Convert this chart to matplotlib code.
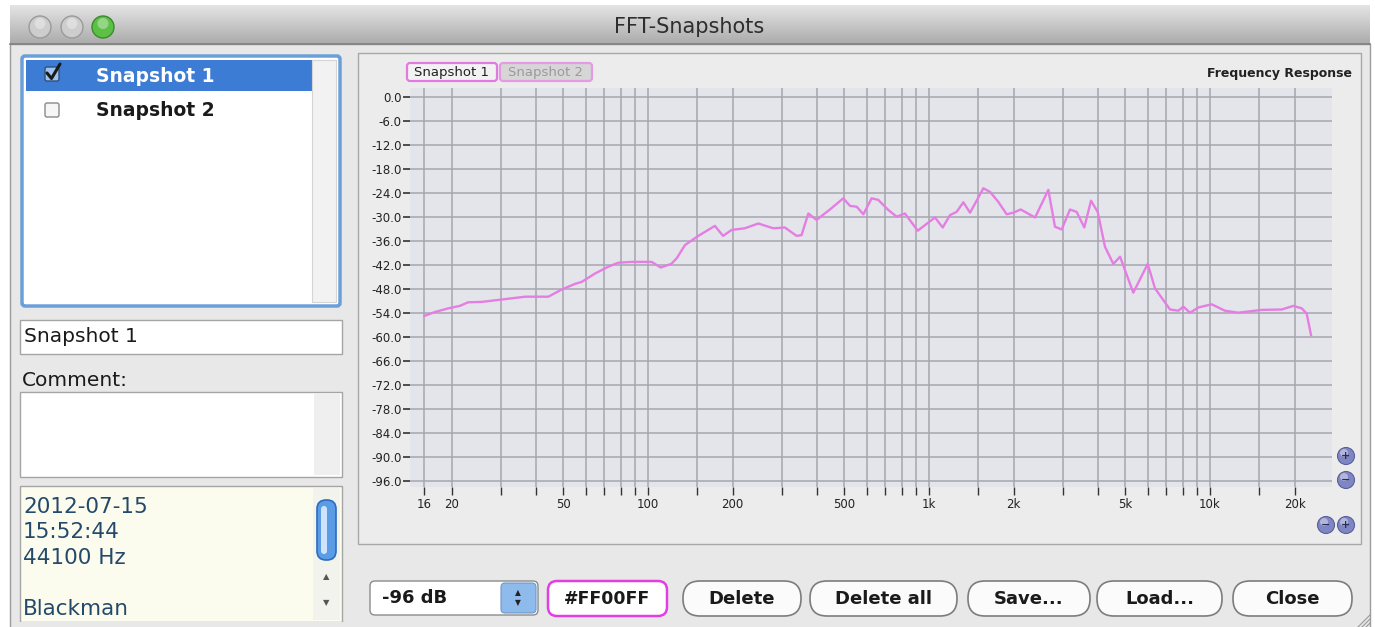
import matplotlib
matplotlib.use('Agg')
import matplotlib.pyplot as plt
from matplotlib.patches import Rectangle, FancyBboxPatch, Circle
from matplotlib.colors import LinearSegmentedColormap
import numpy as np

# ---------------- data ----------------
freq_hz = [16, 17.5, 19.5, 21.4, 22.9, 25.6, 30.2, 36.5, 44.2, 49.3, 55, 58.1, 64.8,
           72.2, 78.4, 87.5, 103, 111, 121, 126.5, 135.4, 151, 173, 185, 198.5, 221,
           247, 279, 307, 338, 352, 372, 398, 444, 495.5, 523.6, 553, 584, 625, 660,
           716, 767, 821, 912, 968, 1050, 1119, 1188, 1254, 1325, 1400, 1561, 1649,
           1765, 1890, 1996, 2120, 2385, 2659, 2807, 2966, 3175, 3354, 3570, 3772,
           3984, 4229, 4529, 4786, 5333, 6003, 6370, 7206, 7716, 8038, 8492, 9087,
           10139, 11300, 12610, 15270, 17990, 19800, 21190, 22080, 22880]
level_db = [-54.8, -53.8, -52.9, -52.3, -51.4, -51.3, -50.7, -50.0, -50.0, -48.2, -46.8,
            -46.3, -44.2, -42.5, -41.5, -41.3, -41.3, -42.7, -41.8, -40.4, -37.1, -34.8,
            -32.3, -34.8, -33.3, -32.9, -31.7, -32.9, -32.7, -34.8, -34.6, -29.2, -30.8,
            -28.2, -25.4, -27.3, -27.5, -29.4, -25.4, -25.8, -28.3, -30.0, -29.2, -33.5,
            -32.1, -30.2, -32.7, -29.6, -28.8, -26.4, -29.0, -22.9, -23.8, -26.3, -29.4,
            -29.0, -28.2, -30.2, -23.3, -32.5, -33.2, -28.2, -28.8, -32.7, -26.0, -28.8,
            -37.5, -41.8, -40.0, -49.0, -41.8, -47.9, -53.2, -53.5, -52.5, -54.0, -52.7,
            -51.9, -53.5, -54.0, -53.3, -53.2, -52.3, -52.9, -54.2, -59.6]

y_ticks = [0, -6, -12, -18, -24, -30, -36, -42, -48, -54, -60, -66, -72, -78, -84, -90, -96]
y_tick_labels = ['0.0', '-6.0', '-12.0', '-18.0', '-24.0', '-30.0', '-36.0', '-42.0',
                 '-48.0', '-54.0', '-60.0', '-66.0', '-72.0', '-78.0', '-84.0', '-90.0',
                 '-96.0']
x_grid_freqs = [16, 20, 30, 40, 50, 60, 70, 80, 90, 100, 150, 200, 300, 400, 500, 600,
                700, 800, 900, 1000, 1500, 2000, 3000, 4000, 5000, 6000, 7000, 8000,
                9000, 10000, 15000, 20000]
x_label_freqs = [16, 20, 50, 100, 200, 500, 1000, 2000, 5000, 10000, 20000]
x_labels = ['16', '20', '50', '100', '200', '500', '1k', '2k', '5k', '10k', '20k']

snapshot_names = ['Snapshot 1', 'Snapshot 2']
info_lines = ['2012-07-15', '15:52:44', '44100 Hz', '', 'Blackman']
button_labels = ['Delete', 'Delete all', 'Save...', 'Load...', 'Close']

# ---------------- figure / chrome ----------------
W, H = 1375, 627
plt.rcParams['font.family'] = ['DejaVu Sans']
fig = plt.figure(figsize=(W / 100, H / 100), dpi=100)
fig.patch.set_facecolor('white')
bg = fig.add_axes([0, 0, 1, 1], zorder=0)
bg.axis('off')


def box(x0, y0, x1, y1, fc, ec='none', lw=1.0, z=1, r=0.0):
    if r > 0:
        p = FancyBboxPatch((x0, y0), x1 - x0, y1 - y0,
                           boxstyle=f'round,pad=0,rounding_size={r}',
                           fc=fc, ec=ec, lw=lw, zorder=z)
    else:
        p = Rectangle((x0, y0), x1 - x0, y1 - y0, fc=fc, ec=ec, lw=lw, zorder=z)
    bg.add_patch(p)
    return p


# window body
box(10, 44, 1370, 640, '#e8e8e8', ec='#9c9c9c', lw=1, z=1)
# title bar gradient
grad = np.linspace(0, 1, 64).reshape(-1, 1)
tb_cmap = LinearSegmentedColormap.from_list('tb', ['#e4e4e4', '#c8c8c8', '#ababab'])
bg.imshow(grad, extent=[10, 1370, 44, 5], aspect='auto', cmap=tb_cmap, zorder=2)
bg.plot([10, 1370], [44, 44], color='#808080', lw=1.2, zorder=3)
bg.text(689, 27, 'FFT-Snapshots', ha='center', va='center', fontsize=15,
        color='#2e2e2e', zorder=4)
for cx, col, ec in [(40, '#cdcdcd', '#9a9a9a'), (72, '#cdcdcd', '#9a9a9a'),
                    (103, '#5cc046', '#3b8a2c')]:
    bg.add_patch(Circle((cx, 27), 11, fc=col, ec=ec, lw=1, zorder=4))
    bg.add_patch(Circle((cx, 23.5), 5.5, fc='white', ec='none', alpha=0.35, zorder=5))

# ---- left side ----
box(22, 56, 340, 306, 'white', ec='#6b9fd9', lw=2.5, z=2, r=3)
box(26, 60, 312, 91, '#3c7cd5', z=3)
box(312, 60, 336, 302, '#f2f2f2', ec='#d5d5d5', lw=0.8, z=3)
# checkboxes
box(45, 67, 59, 81, '#9fc3ec', ec='#30507a', lw=1, z=4, r=2)
bg.plot([47, 51.5, 60], [73, 78.5, 64], color='#1a1a1a', lw=2.2, zorder=5,
        solid_capstyle='round')
box(45, 103, 59, 117, '#f6f6f6', ec='#8a8a8a', lw=1, z=4, r=2)
bg.text(96, 76, snapshot_names[0], ha='left', va='center', fontsize=13.5,
        color='white', fontweight='bold', zorder=5)
bg.text(96, 110, snapshot_names[1], ha='left', va='center', fontsize=13.5,
        color='#1a1a1a', fontweight='bold', zorder=5)

# name field
box(20, 320, 342, 354, 'white', ec='#a5a5a5', lw=1, z=2)
bg.text(24, 337, snapshot_names[0], ha='left', va='center', fontsize=14.5,
        color='#1a1a1a', zorder=3)
bg.text(22, 380, 'Comment:', ha='left', va='center', fontsize=14.5,
        color='#1a1a1a', zorder=3)
box(20, 392, 342, 477, 'white', ec='#a5a5a5', lw=1, z=2)
box(314, 394, 340, 475, '#efefef', z=3)

# info box
box(20, 486, 342, 622, '#fcfcee', ec='#a5a5a5', lw=1, z=2)
box(313, 488, 340, 620, '#f3f3ee', z=3)
box(317, 500, 336, 560, '#5a9ce6', ec='#2c6cbd', lw=1.2, z=4, r=9)
box(321, 506, 327, 554, '#cfe3fa', z=5, r=3)
bg.text(326, 577, '\u25b2', ha='center', va='center', fontsize=6, color='#555555', zorder=4)
bg.text(326, 603, '\u25bc', ha='center', va='center', fontsize=6, color='#555555', zorder=4)
for i, line in enumerate(info_lines):
    bg.text(23, 507 + i * 25.5, line, ha='left', va='center', fontsize=15.5,
            color='#24496a', zorder=3)
bg.add_patch(Rectangle((12, 622), 335, 10, fc='#e8e8e8', ec='none', zorder=4))

# ---- chart panel ----
box(358, 53, 1361, 544, '#ececec', ec='#a8a8a8', lw=1, z=2)
# legend tabs
box(407, 63, 497, 81, '#f2f2f2', ec='#e27ae0', lw=1.6, z=3, r=3)
bg.text(452, 72.5, snapshot_names[0], ha='center', va='center', fontsize=9.5,
        color='#222222', zorder=4)
box(500, 63, 592, 81, '#d6d6d6', ec='#e59ae3', lw=1.6, z=3, r=3)
bg.text(546, 72.5, snapshot_names[1], ha='center', va='center', fontsize=9.5,
        color='#9a9a9a', zorder=4)
bg.text(1352, 73, 'Frequency Response', ha='right', va='center', fontsize=9,
        color='#222222', fontweight='bold', zorder=4)

# zoom buttons
for cx, cy, sym in [(1346, 456, '+'), (1346, 480, '\u2212'), (1326, 525, '\u2212'),
                    (1346, 525, '+')]:
    bg.add_patch(Circle((cx, cy), 8.5, fc='#7f86c4', ec='#5a5f9a', lw=0.8, zorder=4))
    bg.add_patch(Circle((cx - 2, cy - 3), 4, fc='white', ec='none', alpha=0.4, zorder=5))
    bg.text(cx, cy, sym, ha='center', va='center', fontsize=8, color='#2a2d55',
            fontweight='bold', zorder=6)

# ---- bottom controls ----
box(370, 581, 538, 615, 'white', ec='#8c8c8c', lw=1, z=3, r=5)
box(501, 583, 536, 613, '#8ebbeb', ec='#6d98c8', lw=0.8, z=4, r=4)
bg.text(518, 593, '\u25b2', ha='center', va='center', fontsize=5.5, color='#222222', zorder=5)
bg.text(518, 603, '\u25bc', ha='center', va='center', fontsize=5.5, color='#222222', zorder=5)
bg.text(382, 598, '-96 dB', ha='left', va='center', fontsize=13, color='#1a1a1a',
        fontweight='bold', zorder=5)
box(548, 581, 667, 616, 'white', ec='#e040e0', lw=1.8, z=3, r=9)
bg.text(607, 598.5, '#FF00FF', ha='center', va='center', fontsize=12.5, color='#1a1a1a',
        fontweight='bold', zorder=5)
btn_x = [(683, 801), (810, 957), (968, 1090), (1097, 1222), (1233, 1352)]
for (x0, x1), lab in zip(btn_x, button_labels):
    box(x0, 581, x1, 616, '#fbfbfb', ec='#7c7c7c', lw=1.2, z=3, r=17)
    bg.text((x0 + x1) / 2, 598.5, lab, ha='center', va='center', fontsize=13,
            color='#1a1a1a', fontweight='bold', zorder=5)
# resize grip
for k in range(3):
    bg.plot([1358 + 4 * k, 1370], [627, 615 + 4 * k], color='#9a9a9a', lw=0.8, zorder=5)

bg.set_xlim(0, W)
bg.set_ylim(H, 0)

# ---------------- chart axes ----------------
px_left, px_right, px_top, px_bottom = 410, 1332, 88, 487
ax = fig.add_axes([px_left / W, 1 - px_bottom / H, (px_right - px_left) / W,
                   (px_bottom - px_top) / H], zorder=3)
ax.set_facecolor('#e4e5eb')
ax.set_xscale('log')
dec = 281.0
f_lo = 100 * 10 ** ((px_left - 648) / dec)
f_hi = 100 * 10 ** ((px_right - 648) / dec)
ax.set_xlim(f_lo, f_hi)
db_top = -(px_top - 96.7) / 4.0
db_bot = -(px_bottom - 96.7) / 4.0
ax.set_ylim(db_bot, db_top)
for s in ax.spines.values():
    s.set_visible(False)

for f in x_grid_freqs:
    ax.axvline(f, color='#a6a7ae', lw=1.1, zorder=1)
for v in y_ticks:
    ax.axhline(v, color='#a6a7ae', lw=1.1, zorder=1)

ax.plot(freq_hz, level_db, color='#e47ee2', lw=1.7, zorder=3, solid_joinstyle='round')

ax.xaxis.set_minor_locator(matplotlib.ticker.NullLocator())
ax.set_xticks(x_grid_freqs)
ax.set_xticklabels([x_labels[x_label_freqs.index(f)] if f in x_label_freqs else ''
                    for f in x_grid_freqs])
ax.tick_params(axis='x', which='major', direction='out', length=6, width=1,
               color='#333333', pad=2, labelsize=8.5, labelcolor='#222222')
ax.set_yticks(y_ticks)
ax.set_yticklabels(y_tick_labels)
ax.tick_params(axis='y', direction='out', length=5, width=1.2, color='#333333',
               pad=1, labelsize=8.5, labelcolor='#222222')

fig.savefig('out.png', dpi=100)
